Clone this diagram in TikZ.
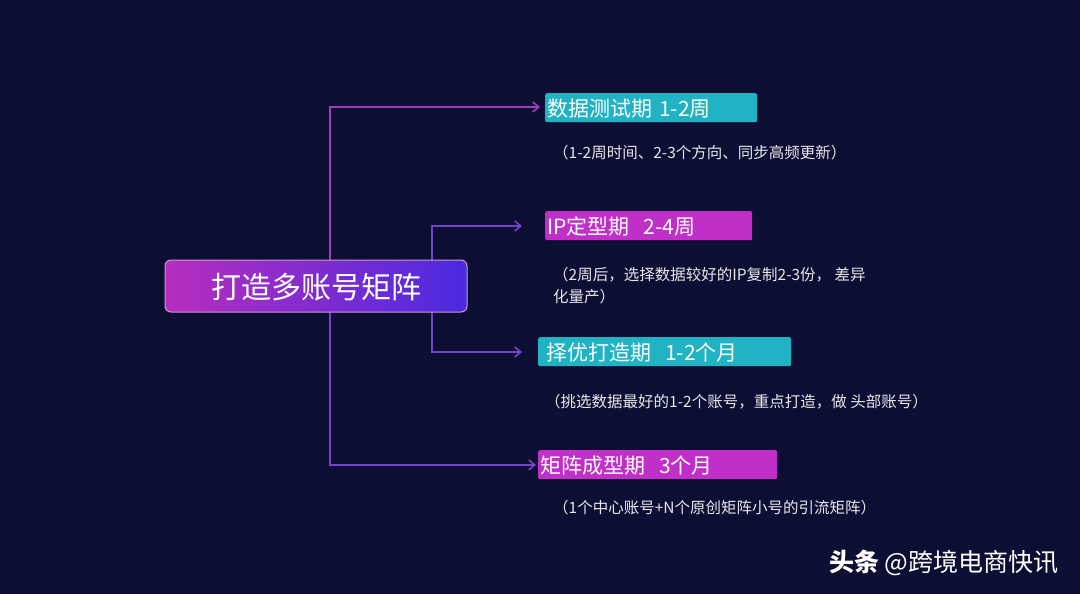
\documentclass[tikz,border=0pt]{standalone}
\usepackage{fontspec}
\newfontfamily\cjk{Noto Sans CJK SC}
\usetikzlibrary{arrows.meta}
\definecolor{bg}{HTML}{0C0F33}
\definecolor{cy}{HTML}{1FB3C4}
\definecolor{mg}{HTML}{C030C8}
\definecolor{lnA}{HTML}{A03CB8}
\definecolor{lnB}{HTML}{7444C8}
\definecolor{cR}{HTML}{4A2AE0}
\tikzset{
 title/.style={anchor=north west,inner xsep=2pt,inner ysep=0pt,minimum height=29pt,rounded corners=2pt,text=white,font=\cjk\fontsize{21}{21}\selectfont,align=left,text depth=0pt},
 desc/.style={anchor=west,inner sep=0pt,text=white!90!bg,font=\cjk\fontsize{15.5}{22}\selectfont,align=left},
 conn/.style={line width=1.6pt,-{Straight Barb[length=6pt,width=10pt]}}
}
\begin{document}
\begin{tikzpicture}[x=1pt,y=-1pt]
\fill[bg] (0,0) rectangle (1080,594);
\useasboundingbox (0,0) rectangle (1080,594);
% connectors
\coordinate (a1) at (330,287);
\coordinate (b1) at (432,287);
\draw[conn,lnA] (a1) |- (540,107);
\draw[conn,lnB] (b1) |- (522,226);
\draw[conn,lnB] (b1) |- (522,352);
\draw[conn,lnB] (a1) |- (536,465);
% central
\shade[left color=mg!95!black,right color=cR,rounded corners=6pt] (165,260) rectangle (467,312);
\draw[white!60!violet,line width=1pt,rounded corners=6pt] (165,260) rectangle (467,312);
\node[text=white,font=\cjk\fontsize{30}{30}\selectfont] (c) at (316,287) {打造多账号矩阵};
% titles
\node[title,fill=cy,text width=208pt] (t1) at (545,93) {数据测试期 1-2周};
\node[title,fill=mg,text width=203pt] (t2) at (545,211) {IP定型期\ \ 2-4周};
\node[title,fill=cy,text width=249pt] (t3) at (538,337) {\hspace{6pt}择优打造期\ \ 1-2个月};
\node[title,fill=mg,text width=235pt] (t4) at (538,450) {矩阵成型期\ \ 3个月};
% descriptions
\node[desc] (d1) at (553,153) {（1-2周时间、2-3个方向、同步高频更新）};
\node[desc] (d2) at (553,286) {（2周后，选择数据较好的IP复制2-3份， 差异\\化量产）};
\node[desc] (d3) at (545,402) {（挑选数据最好的1-2个账号，重点打造，做 头部账号）};
\node[desc] (d4) at (553,508) {（1个中心账号+N个原创矩阵小号的引流矩阵）};
% watermark
\node[anchor=east,text=white,font=\cjk\fontsize{25}{25}\selectfont] (w) at (1062,563) {\textbf{头条} @跨境电商快讯};
\end{tikzpicture}
\end{document}
